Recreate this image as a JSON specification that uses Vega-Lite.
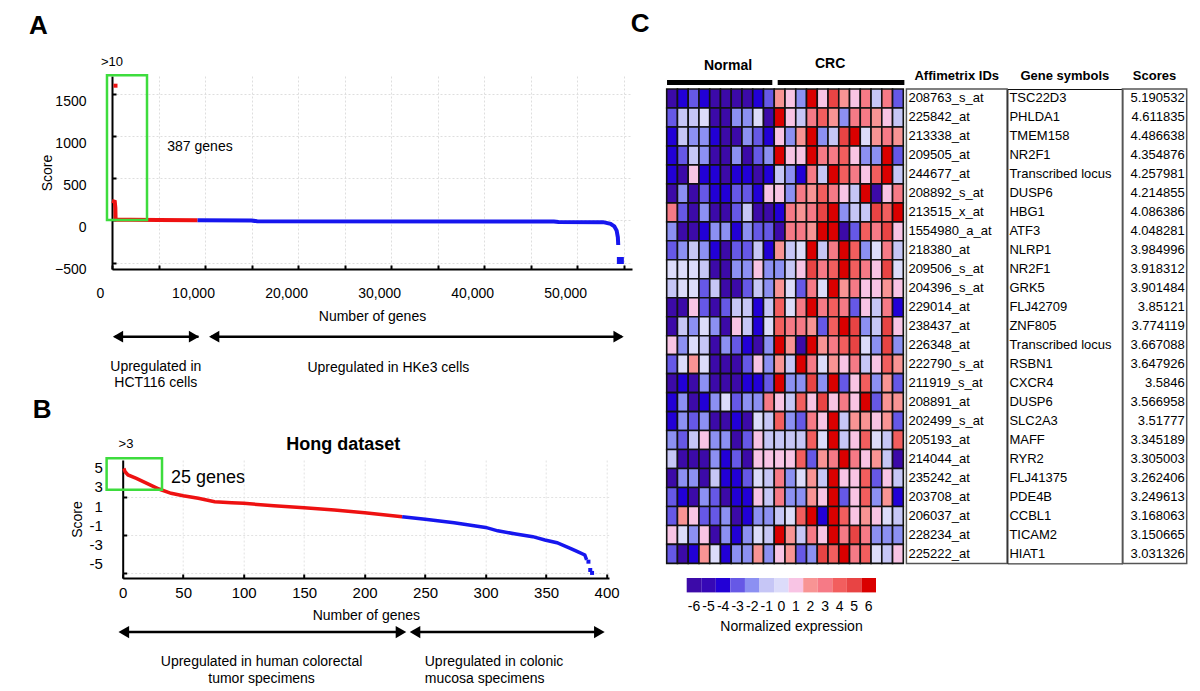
{
"$schema": "https://vega.github.io/schema/vega-lite/v6.json",
"padding": {"left": 29, "top": 11, "right": 5, "bottom": 5},
"background": "white",
"resolve": {"scale": {"color": "independent"}},
"config": {"font": "Liberation Sans", "view": {"stroke": null}, "axis": {"labelColor": "#000", "titleColor": "#000", "titleFontWeight": "normal", "labelFontSize": 14, "titleFontSize": 14, "domainColor": "#000", "tickColor": "#000", "labelFont": "Liberation Sans", "titleFont": "Liberation Sans", "labelOverlap": false}, "title": {"font": "Liberation Sans", "color": "#000"}},
"datasets": {
"aLine": [
{"n":0,"s":232,"g":"up"},{"n":300,"s":222,"g":"up"},{"n":360,"s":150,"g":"up"},{"n":387,"s":12,"g":"up"},{"n":600,"s":9,"g":"up"},{"n":2000,"s":7,"g":"up"},{"n":5000,"s":5,"g":"up"},{"n":9200,"s":2,"g":"up"},
{"n":9200,"s":2,"g":"down"},{"n":15000,"s":0,"g":"down"},{"n":15600,"s":-10,"g":"down"},{"n":47500,"s":-12,"g":"down"},{"n":48000,"s":-18,"g":"down"},{"n":52800,"s":-20,"g":"down"},{"n":53600,"s":-40,"g":"down"},{"n":54000,"s":-70,"g":"down"},{"n":54250,"s":-120,"g":"down"},{"n":54380,"s":-200,"g":"down"},{"n":54420,"s":-291,"g":"down"}
],
"bLine": [
{"n":1,"s":5.0,"g":"up"},{"n":2,"s":4.65,"g":"up"},{"n":4.4,"s":4.31,"g":"up"},{"n":11.3,"s":3.96,"g":"up"},{"n":20,"s":3.44,"g":"up"},{"n":30,"s":2.84,"g":"up"},{"n":40,"s":2.39,"g":"up"},{"n":50,"s":2.14,"g":"up"},{"n":62.5,"s":1.87,"g":"up"},{"n":76,"s":1.51,"g":"up"},{"n":90,"s":1.41,"g":"up"},{"n":100,"s":1.34,"g":"up"},{"n":125,"s":1.09,"g":"up"},{"n":150,"s":0.88,"g":"up"},{"n":175,"s":0.64,"g":"up"},{"n":200,"s":0.36,"g":"up"},{"n":231,"s":-0.06,"g":"up"},
{"n":231,"s":-0.06,"g":"down"},{"n":250,"s":-0.33,"g":"down"},{"n":274,"s":-0.69,"g":"down"},{"n":300,"s":-1.18,"g":"down"},{"n":310,"s":-1.54,"g":"down"},{"n":325,"s":-1.87,"g":"down"},{"n":339,"s":-2.15,"g":"down"},{"n":349,"s":-2.5,"g":"down"},{"n":359,"s":-2.78,"g":"down"},{"n":370,"s":-3.37,"g":"down"},{"n":376,"s":-3.72,"g":"down"},{"n":382,"s":-4.07,"g":"down"},{"n":383.5,"s":-4.59,"g":"down"}
],
"tbl": [
{"r":1,"id":"208763_s_at","sym":"TSC22D3","sc":"5.190532"},
{"r":2,"id":"225842_at","sym":"PHLDA1","sc":"4.611835"},
{"r":3,"id":"213338_at","sym":"TMEM158","sc":"4.486638"},
{"r":4,"id":"209505_at","sym":"NR2F1","sc":"4.354876"},
{"r":5,"id":"244677_at","sym":"Transcribed locus","sc":"4.257981"},
{"r":6,"id":"208892_s_at","sym":"DUSP6","sc":"4.214855"},
{"r":7,"id":"213515_x_at","sym":"HBG1","sc":"4.086386"},
{"r":8,"id":"1554980_a_at","sym":"ATF3","sc":"4.048281"},
{"r":9,"id":"218380_at","sym":"NLRP1","sc":"3.984996"},
{"r":10,"id":"209506_s_at","sym":"NR2F1","sc":"3.918312"},
{"r":11,"id":"204396_s_at","sym":"GRK5","sc":"3.901484"},
{"r":12,"id":"229014_at","sym":"FLJ42709","sc":"3.85121"},
{"r":13,"id":"238437_at","sym":"ZNF805","sc":"3.774119"},
{"r":14,"id":"226348_at","sym":"Transcribed locus","sc":"3.667088"},
{"r":15,"id":"222790_s_at","sym":"RSBN1","sc":"3.647926"},
{"r":16,"id":"211919_s_at","sym":"CXCR4","sc":"3.5846"},
{"r":17,"id":"208891_at","sym":"DUSP6","sc":"3.566958"},
{"r":18,"id":"202499_s_at","sym":"SLC2A3","sc":"3.51777"},
{"r":19,"id":"205193_at","sym":"MAFF","sc":"3.345189"},
{"r":20,"id":"214044_at","sym":"RYR2","sc":"3.305003"},
{"r":21,"id":"235242_at","sym":"FLJ41375","sc":"3.262406"},
{"r":22,"id":"203708_at","sym":"PDE4B","sc":"3.249613"},
{"r":23,"id":"206037_at","sym":"CCBL1","sc":"3.168063"},
{"r":24,"id":"228234_at","sym":"TICAM2","sc":"3.150665"},
{"r":25,"id":"225222_at","sym":"HIAT1","sc":"3.031326"}
],
"hm": [
{"r":1,"c":1,"v":-6},{"r":1,"c":2,"v":-4},{"r":1,"c":3,"v":-3},{"r":1,"c":4,"v":-4},{"r":1,"c":5,"v":-6},{"r":1,"c":6,"v":-6},{"r":1,"c":7,"v":-6},{"r":1,"c":8,"v":-6},{"r":1,"c":9,"v":-4},{"r":1,"c":10,"v":-3},{"r":1,"c":11,"v":2},{"r":1,"c":12,"v":1},{"r":1,"c":13,"v":-2},{"r":1,"c":14,"v":6},{"r":1,"c":15,"v":1},{"r":1,"c":16,"v":5},{"r":1,"c":17,"v":2},{"r":1,"c":18,"v":1},{"r":1,"c":19,"v":3},{"r":1,"c":20,"v":-1},{"r":1,"c":21,"v":3},{"r":1,"c":22,"v":-3},
{"r":2,"c":1,"v":-3},{"r":2,"c":2,"v":-1},{"r":2,"c":3,"v":-1},{"r":2,"c":4,"v":0},{"r":2,"c":5,"v":-6},{"r":2,"c":6,"v":-6},{"r":2,"c":7,"v":-2},{"r":2,"c":8,"v":-2},{"r":2,"c":9,"v":0},{"r":2,"c":10,"v":-6},{"r":2,"c":11,"v":6},{"r":2,"c":12,"v":1},{"r":2,"c":13,"v":-1},{"r":2,"c":14,"v":3},{"r":2,"c":15,"v":4},{"r":2,"c":16,"v":2},{"r":2,"c":17,"v":-2},{"r":2,"c":18,"v":3},{"r":2,"c":19,"v":3},{"r":2,"c":20,"v":2},{"r":2,"c":21,"v":1},{"r":2,"c":22,"v":-1},
{"r":3,"c":1,"v":-4},{"r":3,"c":2,"v":-1},{"r":3,"c":3,"v":-2},{"r":3,"c":4,"v":-2},{"r":3,"c":5,"v":-4},{"r":3,"c":6,"v":-6},{"r":3,"c":7,"v":-6},{"r":3,"c":8,"v":-2},{"r":3,"c":9,"v":-3},{"r":3,"c":10,"v":-4},{"r":3,"c":11,"v":1},{"r":3,"c":12,"v":-2},{"r":3,"c":13,"v":2},{"r":3,"c":14,"v":6},{"r":3,"c":15,"v":-2},{"r":3,"c":16,"v":-1},{"r":3,"c":17,"v":5},{"r":3,"c":18,"v":6},{"r":3,"c":19,"v":0},{"r":3,"c":20,"v":2},{"r":3,"c":21,"v":3},{"r":3,"c":22,"v":2},
{"r":4,"c":1,"v":-4},{"r":4,"c":2,"v":-3},{"r":4,"c":3,"v":-1},{"r":4,"c":4,"v":-2},{"r":4,"c":5,"v":-6},{"r":4,"c":6,"v":-6},{"r":4,"c":7,"v":-2},{"r":4,"c":8,"v":-6},{"r":4,"c":9,"v":-3},{"r":4,"c":10,"v":-2},{"r":4,"c":11,"v":6},{"r":4,"c":12,"v":1},{"r":4,"c":13,"v":1},{"r":4,"c":14,"v":6},{"r":4,"c":15,"v":3},{"r":4,"c":16,"v":3},{"r":4,"c":17,"v":4},{"r":4,"c":18,"v":1},{"r":4,"c":19,"v":-2},{"r":4,"c":20,"v":-2},{"r":4,"c":21,"v":6},{"r":4,"c":22,"v":-3},
{"r":5,"c":1,"v":-4},{"r":5,"c":2,"v":-6},{"r":5,"c":3,"v":1},{"r":5,"c":4,"v":-4},{"r":5,"c":5,"v":-4},{"r":5,"c":6,"v":-6},{"r":5,"c":7,"v":-4},{"r":5,"c":8,"v":-4},{"r":5,"c":9,"v":-6},{"r":5,"c":10,"v":-4},{"r":5,"c":11,"v":-1},{"r":5,"c":12,"v":-2},{"r":5,"c":13,"v":-4},{"r":5,"c":14,"v":3},{"r":5,"c":15,"v":-1},{"r":5,"c":16,"v":6},{"r":5,"c":17,"v":4},{"r":5,"c":18,"v":3},{"r":5,"c":19,"v":1},{"r":5,"c":20,"v":4},{"r":5,"c":21,"v":6},{"r":5,"c":22,"v":-1},
{"r":6,"c":1,"v":-6},{"r":6,"c":2,"v":-2},{"r":6,"c":3,"v":-6},{"r":6,"c":4,"v":-3},{"r":6,"c":5,"v":-4},{"r":6,"c":6,"v":-4},{"r":6,"c":7,"v":-3},{"r":6,"c":8,"v":-3},{"r":6,"c":9,"v":-4},{"r":6,"c":10,"v":1},{"r":6,"c":11,"v":1},{"r":6,"c":12,"v":-2},{"r":6,"c":13,"v":3},{"r":6,"c":14,"v":2},{"r":6,"c":15,"v":4},{"r":6,"c":16,"v":3},{"r":6,"c":17,"v":1},{"r":6,"c":18,"v":-1},{"r":6,"c":19,"v":6},{"r":6,"c":20,"v":-6},{"r":6,"c":21,"v":1},{"r":6,"c":22,"v":3},
{"r":7,"c":1,"v":3},{"r":7,"c":2,"v":-3},{"r":7,"c":3,"v":-6},{"r":7,"c":4,"v":-2},{"r":7,"c":5,"v":-6},{"r":7,"c":6,"v":-6},{"r":7,"c":7,"v":-3},{"r":7,"c":8,"v":-1},{"r":7,"c":9,"v":-6},{"r":7,"c":10,"v":-6},{"r":7,"c":11,"v":-4},{"r":7,"c":12,"v":3},{"r":7,"c":13,"v":2},{"r":7,"c":14,"v":3},{"r":7,"c":15,"v":5},{"r":7,"c":16,"v":6},{"r":7,"c":17,"v":-2},{"r":7,"c":18,"v":-1},{"r":7,"c":19,"v":-1},{"r":7,"c":20,"v":5},{"r":7,"c":21,"v":4},{"r":7,"c":22,"v":6},
{"r":8,"c":1,"v":-2},{"r":8,"c":2,"v":-6},{"r":8,"c":3,"v":-6},{"r":8,"c":4,"v":-4},{"r":8,"c":5,"v":-2},{"r":8,"c":6,"v":-2},{"r":8,"c":7,"v":-4},{"r":8,"c":8,"v":-2},{"r":8,"c":9,"v":-3},{"r":8,"c":10,"v":-3},{"r":8,"c":11,"v":-6},{"r":8,"c":12,"v":3},{"r":8,"c":13,"v":3},{"r":8,"c":14,"v":2},{"r":8,"c":15,"v":6},{"r":8,"c":16,"v":6},{"r":8,"c":17,"v":-6},{"r":8,"c":18,"v":-3},{"r":8,"c":19,"v":4},{"r":8,"c":20,"v":3},{"r":8,"c":21,"v":5},{"r":8,"c":22,"v":1},
{"r":9,"c":1,"v":-3},{"r":9,"c":2,"v":-2},{"r":9,"c":3,"v":-1},{"r":9,"c":4,"v":-2},{"r":9,"c":5,"v":-4},{"r":9,"c":6,"v":-6},{"r":9,"c":7,"v":-3},{"r":9,"c":8,"v":-3},{"r":9,"c":9,"v":-1},{"r":9,"c":10,"v":-4},{"r":9,"c":11,"v":2},{"r":9,"c":12,"v":-1},{"r":9,"c":13,"v":0},{"r":9,"c":14,"v":6},{"r":9,"c":15,"v":-1},{"r":9,"c":16,"v":3},{"r":9,"c":17,"v":6},{"r":9,"c":18,"v":4},{"r":9,"c":19,"v":-2},{"r":9,"c":20,"v":0},{"r":9,"c":21,"v":3},{"r":9,"c":22,"v":-1},
{"r":10,"c":1,"v":0},{"r":10,"c":2,"v":0},{"r":10,"c":3,"v":0},{"r":10,"c":4,"v":-1},{"r":10,"c":5,"v":-6},{"r":10,"c":6,"v":-6},{"r":10,"c":7,"v":-2},{"r":10,"c":8,"v":-2},{"r":10,"c":9,"v":1},{"r":10,"c":10,"v":-2},{"r":10,"c":11,"v":-2},{"r":10,"c":12,"v":-1},{"r":10,"c":13,"v":1},{"r":10,"c":14,"v":5},{"r":10,"c":15,"v":3},{"r":10,"c":16,"v":4},{"r":10,"c":17,"v":6},{"r":10,"c":18,"v":4},{"r":10,"c":19,"v":3},{"r":10,"c":20,"v":1},{"r":10,"c":21,"v":5},{"r":10,"c":22,"v":0},
{"r":11,"c":1,"v":-1},{"r":11,"c":2,"v":0},{"r":11,"c":3,"v":0},{"r":11,"c":4,"v":-3},{"r":11,"c":5,"v":-1},{"r":11,"c":6,"v":-6},{"r":11,"c":7,"v":-6},{"r":11,"c":8,"v":-3},{"r":11,"c":9,"v":-1},{"r":11,"c":10,"v":-2},{"r":11,"c":11,"v":2},{"r":11,"c":12,"v":0},{"r":11,"c":13,"v":-3},{"r":11,"c":14,"v":3},{"r":11,"c":15,"v":0},{"r":11,"c":16,"v":6},{"r":11,"c":17,"v":2},{"r":11,"c":18,"v":3},{"r":11,"c":19,"v":1},{"r":11,"c":20,"v":1},{"r":11,"c":21,"v":2},{"r":11,"c":22,"v":1},
{"r":12,"c":1,"v":-6},{"r":12,"c":2,"v":-6},{"r":12,"c":3,"v":1},{"r":12,"c":4,"v":-3},{"r":12,"c":5,"v":-6},{"r":12,"c":6,"v":-3},{"r":12,"c":7,"v":-1},{"r":12,"c":8,"v":-1},{"r":12,"c":9,"v":-4},{"r":12,"c":10,"v":-1},{"r":12,"c":11,"v":4},{"r":12,"c":12,"v":0},{"r":12,"c":13,"v":3},{"r":12,"c":14,"v":6},{"r":12,"c":15,"v":3},{"r":12,"c":16,"v":4},{"r":12,"c":17,"v":3},{"r":12,"c":18,"v":-3},{"r":12,"c":19,"v":1},{"r":12,"c":20,"v":-1},{"r":12,"c":21,"v":3},{"r":12,"c":22,"v":-4},
{"r":13,"c":1,"v":-6},{"r":13,"c":2,"v":-1},{"r":13,"c":3,"v":-2},{"r":13,"c":4,"v":0},{"r":13,"c":5,"v":-2},{"r":13,"c":6,"v":-6},{"r":13,"c":7,"v":1},{"r":13,"c":8,"v":-1},{"r":13,"c":9,"v":-4},{"r":13,"c":10,"v":0},{"r":13,"c":11,"v":4},{"r":13,"c":12,"v":3},{"r":13,"c":13,"v":3},{"r":13,"c":14,"v":2},{"r":13,"c":15,"v":-3},{"r":13,"c":16,"v":4},{"r":13,"c":17,"v":6},{"r":13,"c":18,"v":5},{"r":13,"c":19,"v":-2},{"r":13,"c":20,"v":-1},{"r":13,"c":21,"v":5},{"r":13,"c":22,"v":1},
{"r":14,"c":1,"v":1},{"r":14,"c":2,"v":-2},{"r":14,"c":3,"v":0},{"r":14,"c":4,"v":-1},{"r":14,"c":5,"v":-6},{"r":14,"c":6,"v":-2},{"r":14,"c":7,"v":-3},{"r":14,"c":8,"v":-4},{"r":14,"c":9,"v":-6},{"r":14,"c":10,"v":-2},{"r":14,"c":11,"v":6},{"r":14,"c":12,"v":2},{"r":14,"c":13,"v":-6},{"r":14,"c":14,"v":6},{"r":14,"c":15,"v":2},{"r":14,"c":16,"v":3},{"r":14,"c":17,"v":4},{"r":14,"c":18,"v":5},{"r":14,"c":19,"v":0},{"r":14,"c":20,"v":-2},{"r":14,"c":21,"v":5},{"r":14,"c":22,"v":-2},
{"r":15,"c":1,"v":-3},{"r":15,"c":2,"v":0},{"r":15,"c":3,"v":2},{"r":15,"c":4,"v":0},{"r":15,"c":5,"v":-6},{"r":15,"c":6,"v":-6},{"r":15,"c":7,"v":-6},{"r":15,"c":8,"v":-3},{"r":15,"c":9,"v":1},{"r":15,"c":10,"v":-2},{"r":15,"c":11,"v":2},{"r":15,"c":12,"v":-1},{"r":15,"c":13,"v":6},{"r":15,"c":14,"v":3},{"r":15,"c":15,"v":0},{"r":15,"c":16,"v":2},{"r":15,"c":17,"v":1},{"r":15,"c":18,"v":3},{"r":15,"c":19,"v":-1},{"r":15,"c":20,"v":1},{"r":15,"c":21,"v":4},{"r":15,"c":22,"v":2},
{"r":16,"c":1,"v":-6},{"r":16,"c":2,"v":-4},{"r":16,"c":3,"v":-6},{"r":16,"c":4,"v":-2},{"r":16,"c":5,"v":-6},{"r":16,"c":6,"v":-6},{"r":16,"c":7,"v":-6},{"r":16,"c":8,"v":-4},{"r":16,"c":9,"v":-4},{"r":16,"c":10,"v":-3},{"r":16,"c":11,"v":6},{"r":16,"c":12,"v":-2},{"r":16,"c":13,"v":-2},{"r":16,"c":14,"v":5},{"r":16,"c":15,"v":-2},{"r":16,"c":16,"v":6},{"r":16,"c":17,"v":-3},{"r":16,"c":18,"v":1},{"r":16,"c":19,"v":4},{"r":16,"c":20,"v":-2},{"r":16,"c":21,"v":2},{"r":16,"c":22,"v":-3},
{"r":17,"c":1,"v":-4},{"r":17,"c":2,"v":-2},{"r":17,"c":3,"v":-6},{"r":17,"c":4,"v":-4},{"r":17,"c":5,"v":-2},{"r":17,"c":6,"v":0},{"r":17,"c":7,"v":-3},{"r":17,"c":8,"v":-2},{"r":17,"c":9,"v":-2},{"r":17,"c":10,"v":3},{"r":17,"c":11,"v":1},{"r":17,"c":12,"v":-1},{"r":17,"c":13,"v":4},{"r":17,"c":14,"v":1},{"r":17,"c":15,"v":5},{"r":17,"c":16,"v":1},{"r":17,"c":17,"v":3},{"r":17,"c":18,"v":1},{"r":17,"c":19,"v":6},{"r":17,"c":20,"v":-3},{"r":17,"c":21,"v":2},{"r":17,"c":22,"v":2},
{"r":18,"c":1,"v":-4},{"r":18,"c":2,"v":-2},{"r":18,"c":3,"v":-3},{"r":18,"c":4,"v":-2},{"r":18,"c":5,"v":-6},{"r":18,"c":6,"v":-6},{"r":18,"c":7,"v":-4},{"r":18,"c":8,"v":-6},{"r":18,"c":9,"v":0},{"r":18,"c":10,"v":-1},{"r":18,"c":11,"v":4},{"r":18,"c":12,"v":-2},{"r":18,"c":13,"v":-3},{"r":18,"c":14,"v":3},{"r":18,"c":15,"v":1},{"r":18,"c":16,"v":6},{"r":18,"c":17,"v":-1},{"r":18,"c":18,"v":2},{"r":18,"c":19,"v":2},{"r":18,"c":20,"v":1},{"r":18,"c":21,"v":2},{"r":18,"c":22,"v":-3},
{"r":19,"c":1,"v":-2},{"r":19,"c":2,"v":-3},{"r":19,"c":3,"v":-1},{"r":19,"c":4,"v":1},{"r":19,"c":5,"v":-2},{"r":19,"c":6,"v":-2},{"r":19,"c":7,"v":-6},{"r":19,"c":8,"v":-3},{"r":19,"c":9,"v":1},{"r":19,"c":10,"v":-1},{"r":19,"c":11,"v":-1},{"r":19,"c":12,"v":-1},{"r":19,"c":13,"v":-1},{"r":19,"c":14,"v":4},{"r":19,"c":15,"v":0},{"r":19,"c":16,"v":6},{"r":19,"c":17,"v":-1},{"r":19,"c":18,"v":1},{"r":19,"c":19,"v":4},{"r":19,"c":20,"v":0},{"r":19,"c":21,"v":-1},{"r":19,"c":22,"v":4},
{"r":20,"c":1,"v":-1},{"r":20,"c":2,"v":-6},{"r":20,"c":3,"v":-6},{"r":20,"c":4,"v":-6},{"r":20,"c":5,"v":-2},{"r":20,"c":6,"v":-4},{"r":20,"c":7,"v":-3},{"r":20,"c":8,"v":-6},{"r":20,"c":9,"v":1},{"r":20,"c":10,"v":1},{"r":20,"c":11,"v":1},{"r":20,"c":12,"v":1},{"r":20,"c":13,"v":4},{"r":20,"c":14,"v":-3},{"r":20,"c":15,"v":2},{"r":20,"c":16,"v":3},{"r":20,"c":17,"v":6},{"r":20,"c":18,"v":3},{"r":20,"c":19,"v":1},{"r":20,"c":20,"v":2},{"r":20,"c":21,"v":-1},{"r":20,"c":22,"v":-6},
{"r":21,"c":1,"v":-6},{"r":21,"c":2,"v":-2},{"r":21,"c":3,"v":-2},{"r":21,"c":4,"v":-6},{"r":21,"c":5,"v":-1},{"r":21,"c":6,"v":-4},{"r":21,"c":7,"v":-4},{"r":21,"c":8,"v":-3},{"r":21,"c":9,"v":0},{"r":21,"c":10,"v":-1},{"r":21,"c":11,"v":3},{"r":21,"c":12,"v":-2},{"r":21,"c":13,"v":0},{"r":21,"c":14,"v":2},{"r":21,"c":15,"v":-1},{"r":21,"c":16,"v":6},{"r":21,"c":17,"v":1},{"r":21,"c":18,"v":1},{"r":21,"c":19,"v":4},{"r":21,"c":20,"v":-3},{"r":21,"c":21,"v":1},{"r":21,"c":22,"v":-1},
{"r":22,"c":1,"v":-3},{"r":22,"c":2,"v":-4},{"r":22,"c":3,"v":-6},{"r":22,"c":4,"v":-2},{"r":22,"c":5,"v":-3},{"r":22,"c":6,"v":-6},{"r":22,"c":7,"v":-4},{"r":22,"c":8,"v":-4},{"r":22,"c":9,"v":1},{"r":22,"c":10,"v":-1},{"r":22,"c":11,"v":3},{"r":22,"c":12,"v":-2},{"r":22,"c":13,"v":-2},{"r":22,"c":14,"v":2},{"r":22,"c":15,"v":1},{"r":22,"c":16,"v":6},{"r":22,"c":17,"v":-3},{"r":22,"c":18,"v":1},{"r":22,"c":19,"v":4},{"r":22,"c":20,"v":-2},{"r":22,"c":21,"v":2},{"r":22,"c":22,"v":-4},
{"r":23,"c":1,"v":-3},{"r":23,"c":2,"v":2},{"r":23,"c":3,"v":1},{"r":23,"c":4,"v":-3},{"r":23,"c":5,"v":-3},{"r":23,"c":6,"v":-2},{"r":23,"c":7,"v":-6},{"r":23,"c":8,"v":-4},{"r":23,"c":9,"v":-2},{"r":23,"c":10,"v":-2},{"r":23,"c":11,"v":-1},{"r":23,"c":12,"v":0},{"r":23,"c":13,"v":4},{"r":23,"c":14,"v":6},{"r":23,"c":15,"v":-4},{"r":23,"c":16,"v":6},{"r":23,"c":17,"v":4},{"r":23,"c":18,"v":1},{"r":23,"c":19,"v":2},{"r":23,"c":20,"v":1},{"r":23,"c":21,"v":0},{"r":23,"c":22,"v":-1},
{"r":24,"c":1,"v":1},{"r":24,"c":2,"v":0},{"r":24,"c":3,"v":-2},{"r":24,"c":4,"v":1},{"r":24,"c":5,"v":-6},{"r":24,"c":6,"v":-2},{"r":24,"c":7,"v":-4},{"r":24,"c":8,"v":-2},{"r":24,"c":9,"v":0},{"r":24,"c":10,"v":-1},{"r":24,"c":11,"v":6},{"r":24,"c":12,"v":2},{"r":24,"c":13,"v":-1},{"r":24,"c":14,"v":3},{"r":24,"c":15,"v":1},{"r":24,"c":16,"v":6},{"r":24,"c":17,"v":3},{"r":24,"c":18,"v":5},{"r":24,"c":19,"v":3},{"r":24,"c":20,"v":-2},{"r":24,"c":21,"v":-2},{"r":24,"c":22,"v":-2},
{"r":25,"c":1,"v":-3},{"r":25,"c":2,"v":-6},{"r":25,"c":3,"v":-4},{"r":25,"c":4,"v":2},{"r":25,"c":5,"v":0},{"r":25,"c":6,"v":-4},{"r":25,"c":7,"v":-2},{"r":25,"c":8,"v":-2},{"r":25,"c":9,"v":2},{"r":25,"c":10,"v":-2},{"r":25,"c":11,"v":1},{"r":25,"c":12,"v":2},{"r":25,"c":13,"v":-3},{"r":25,"c":14,"v":-2},{"r":25,"c":15,"v":5},{"r":25,"c":16,"v":4},{"r":25,"c":17,"v":6},{"r":25,"c":18,"v":3},{"r":25,"c":19,"v":4},{"r":25,"c":20,"v":0},{"r":25,"c":21,"v":-1},{"r":25,"c":22,"v":1}
]
},
"hconcat": [
{
"vconcat": [
{
"width": 520, "height": 193,
"layer": [
{"data": {"name": "aLine"}, "mark": {"type": "line", "strokeWidth": 4, "strokeCap": "butt"},
 "encoding": {
  "x": {"field": "n", "type": "quantitative", "scale": {"domain": [0, 55900], "nice": false, "zero": false},
   "axis": {"title": "Number of genes", "values": [0,5000,10000,15000,20000,25000,30000,35000,40000,45000,50000,55000], "labelExpr": "datum.value % 10000 === 0 ? format(datum.value, ',') : ''", "labelOffset": -12, "labelPadding": 21, "tickSize": -4, "tickWidth": 2, "domainWidth": 2, "grid": true, "gridColor": "#dedede", "gridDash": [2, 2], "labelFlush": false, "labelOverlap": false, "titlePadding": 9}},
  "y": {"field": "s", "type": "quantitative", "scale": {"domain": [-576, 1714], "nice": false, "zero": false},
   "axis": {"title": "Score", "values": [-500,-250,0,250,500,750,1000,1250,1500], "labelExpr": "format(datum.value, 'd')", "labelOffset": 7, "labelPadding": 30, "tickSize": -4, "tickWidth": 2, "domainWidth": 2, "grid": true, "gridColor": "#dedede", "gridDash": [2, 2], "labelFlush": false, "labelOverlap": false, "titlePadding": 0}},
  "color": {"field": "g", "type": "nominal", "scale": {"domain": ["up", "down"], "range": ["#ee1111", "#1616ee"]}, "legend": null}}},
{"data": {"values": [{"n": 376, "s": 1599}]}, "mark": {"type": "square", "filled": true, "opacity": 1, "size": 16, "color": "#ee1111"},
 "encoding": {"x": {"field": "n", "type": "quantitative"}, "y": {"field": "s", "type": "quantitative"}}},
{"data": {"values": [{"n": 54650, "s": -475}]}, "mark": {"type": "square", "filled": true, "opacity": 1, "size": 49, "color": "#1616ee"},
 "encoding": {"x": {"field": "n", "type": "quantitative"}, "y": {"field": "s", "type": "quantitative"}}},
{"data": {"values": [{"n": -538, "n2": 3763, "s": 1722, "s2": 5}]}, "mark": {"type": "rect", "fillOpacity": 0, "stroke": "#3ddc3d", "strokeWidth": 2.5},
 "encoding": {"x": {"field": "n", "type": "quantitative"}, "x2": {"field": "n2"}, "y": {"field": "s", "type": "quantitative"}, "y2": {"field": "s2"}}},
{"data": {"values": [{"n": 0, "s": 1876, "t": ">10"}]}, "mark": {"type": "text", "fontSize": 13, "align": "center", "baseline": "middle"},
 "encoding": {"x": {"field": "n", "type": "quantitative"}, "y": {"field": "s", "type": "quantitative"}, "text": {"field": "t"}}},
{"data": {"values": [{"n": 9460, "s": 875, "t": "387 genes"}, {"n": 4709, "s": -1735, "t": "Upregulated in"}, {"n": 4709, "s": -1932, "t": "HCT116 cells"}, {"n": 29714, "s": -1754, "t": "Upregulated in HKe3 cells"}]}, "mark": {"type": "text", "fontSize": 14, "align": "center", "baseline": "middle"},
 "encoding": {"x": {"field": "n", "type": "quantitative"}, "y": {"field": "s", "type": "quantitative"}, "text": {"field": "t"}}},
{"data": {"values": [{"n": -7912, "s": 2310, "t": "A"}]}, "mark": {"type": "text", "fontSize": 26, "fontWeight": "bold", "align": "center", "baseline": "middle"},
 "encoding": {"x": {"field": "n", "type": "quantitative"}, "y": {"field": "s", "type": "quantitative"}, "text": {"field": "t"}}},
{"data": {"values": [{"n": 300, "n2": 9300, "s": -1379}, {"n": 10640, "n2": 54800, "s": -1379}]}, "mark": {"type": "rule", "strokeWidth": 2.5, "color": "#000"},
 "encoding": {"x": {"field": "n", "type": "quantitative"}, "x2": {"field": "n2"}, "y": {"field": "s", "type": "quantitative"}}},
{"data": {"values": [{"n": 0, "s": -1379}, {"n": 10340, "s": -1379}]}, "mark": {"type": "point", "shape": "triangle-left", "filled": true, "opacity": 1, "size": 140, "color": "#000", "xOffset": 6},
 "encoding": {"x": {"field": "n", "type": "quantitative"}, "y": {"field": "s", "type": "quantitative"}}},
{"data": {"values": [{"n": 9460, "s": -1379}, {"n": 55100, "s": -1379}]}, "mark": {"type": "point", "shape": "triangle-right", "filled": true, "opacity": 1, "size": 140, "color": "#000", "xOffset": -6},
 "encoding": {"x": {"field": "n", "type": "quantitative"}, "y": {"field": "s", "type": "quantitative"}}}
]
},
{
"hconcat": [
{"width": 1, "height": 118, "data": {"values": [{"k": 0}]}, "mark": {"type": "text", "text": ""}, "encoding": {}},
{
"width": 486.3, "height": 118,
"layer": [
{"data": {"name": "bLine"}, "mark": {"type": "line", "strokeWidth": 3.5, "strokeCap": "butt"},
 "encoding": {
  "x": {"field": "n", "type": "quantitative", "scale": {"domain": [0, 402], "nice": false, "zero": false},
   "axis": {"title": "Number of genes", "values": [0,25,50,75,100,125,150,175,200,225,250,275,300,325,350,375,400], "labelExpr": "datum.value % 50 === 0 ? format(datum.value, 'd') : ''", "labelPadding": 11, "labelFontSize": 15, "tickSize": -4, "tickWidth": 2, "domainWidth": 2, "grid": true, "gridColor": "#e2e2e2", "gridDash": [2, 2], "labelFlush": false, "labelOverlap": false, "titlePadding": 8}},
  "y": {"field": "s", "type": "quantitative", "scale": {"domain": [-6.48, 5.88], "nice": false, "zero": false},
   "axis": {"title": "Score", "values": [-6,-5,-4,-3,-2,-1,0,1,2,3,4,5], "labels": false, "tickSize": -4, "tickWidth": 2, "domainWidth": 2, "grid": true, "gridColor": "#e2e2e2", "gridDash": [2, 2], "titlePadding": 37}},
  "color": {"field": "g", "type": "nominal", "scale": {"domain": ["up", "down"], "range": ["#ee1111", "#1616ee"]}, "legend": null}}},
{"data": {"values": [{"n": -16.5, "s": 5, "t": "5"}, {"n": -16.5, "s": 3, "t": "3"}, {"n": -16.5, "s": 1, "t": "1"}, {"n": -16.5, "s": -1, "t": "-1"}, {"n": -16.5, "s": -3, "t": "-3"}, {"n": -16.5, "s": -5, "t": "-5"}]}, "mark": {"type": "text", "fontSize": 15, "align": "right", "baseline": "middle"},
 "encoding": {"x": {"field": "n", "type": "quantitative"}, "y": {"field": "s", "type": "quantitative"}, "text": {"field": "t"}}},
{"data": {"values": [{"n": 385, "s": -4.77}, {"n": 386.5, "s": -5.64}, {"n": 388, "s": -5.95}]}, "mark": {"type": "square", "filled": true, "opacity": 1, "size": 16, "color": "#1616ee"},
 "encoding": {"x": {"field": "n", "type": "quantitative"}, "y": {"field": "s", "type": "quantitative"}}},
{"data": {"values": [{"n": -13.3, "n2": 32.5, "s": 6.06, "s2": 2.77}]}, "mark": {"type": "rect", "fillOpacity": 0, "stroke": "#3ddc3d", "strokeWidth": 2.5},
 "encoding": {"x": {"field": "n", "type": "quantitative"}, "x2": {"field": "n2"}, "y": {"field": "s", "type": "quantitative"}, "y2": {"field": "s2"}}},
{"data": {"values": [{"n": 2.7, "s": 7.55, "t": ">3"}]}, "mark": {"type": "text", "fontSize": 13, "align": "center", "baseline": "middle"},
 "encoding": {"x": {"field": "n", "type": "quantitative"}, "y": {"field": "s", "type": "quantitative"}, "text": {"field": "t"}}},
{"data": {"values": [{"n": 70.5, "s": 3.96, "t": "25 genes"}]}, "mark": {"type": "text", "fontSize": 18, "align": "center", "baseline": "middle"},
 "encoding": {"x": {"field": "n", "type": "quantitative"}, "y": {"field": "s", "type": "quantitative"}, "text": {"field": "t"}}},
{"data": {"values": [{"n": 182.3, "s": 7.45, "t": "Hong  dataset"}]}, "mark": {"type": "text", "fontSize": 18, "fontWeight": "bold", "align": "center", "baseline": "middle"},
 "encoding": {"x": {"field": "n", "type": "quantitative"}, "y": {"field": "s", "type": "quantitative"}, "text": {"field": "t"}}},
{"data": {"values": [{"n": -66.5, "s": 11.12, "t": "B"}]}, "mark": {"type": "text", "fontSize": 26, "fontWeight": "bold", "align": "center", "baseline": "middle"},
 "encoding": {"x": {"field": "n", "type": "quantitative"}, "y": {"field": "s", "type": "quantitative"}, "text": {"field": "t"}}},
{"data": {"values": [{"n": 114.8, "s": -15.31, "t": "Upregulated in human colorectal"}, {"n": 114.8, "s": -17.09, "t": "tumor specimens"}]}, "mark": {"type": "text", "fontSize": 14, "align": "center", "baseline": "middle"},
 "encoding": {"x": {"field": "n", "type": "quantitative"}, "y": {"field": "s", "type": "quantitative"}, "text": {"field": "t"}}},
{"data": {"values": [{"n": 249.7, "s": -15.31, "t": "Upregulated in colonic"}, {"n": 249.7, "s": -17.09, "t": "mucosa specimens"}]}, "mark": {"type": "text", "fontSize": 14, "align": "left", "baseline": "middle"},
 "encoding": {"x": {"field": "n", "type": "quantitative"}, "y": {"field": "s", "type": "quantitative"}, "text": {"field": "t"}}},
{"data": {"values": [{"n": 1, "n2": 230, "s": -12.14}, {"n": 241.7, "n2": 394, "s": -12.14}]}, "mark": {"type": "rule", "strokeWidth": 2.5, "color": "#000"},
 "encoding": {"x": {"field": "n", "type": "quantitative"}, "x2": {"field": "n2"}, "y": {"field": "s", "type": "quantitative"}}},
{"data": {"values": [{"n": -4.05, "s": -12.14}, {"n": 236.7, "s": -12.14}]}, "mark": {"type": "point", "shape": "triangle-left", "filled": true, "opacity": 1, "size": 150, "color": "#000", "xOffset": 6},
 "encoding": {"x": {"field": "n", "type": "quantitative"}, "y": {"field": "s", "type": "quantitative"}}},
{"data": {"values": [{"n": 235, "s": -12.14}, {"n": 399, "s": -12.14}]}, "mark": {"type": "point", "shape": "triangle-right", "filled": true, "opacity": 1, "size": 150, "color": "#000", "xOffset": -6},
 "encoding": {"x": {"field": "n", "type": "quantitative"}, "y": {"field": "s", "type": "quantitative"}}}
]
}
],
"spacing": 9.7, "bounds": "flush"
}
],
"spacing": 191, "bounds": "flush"
},
{
"vconcat": [
{
"width": 236.6, "height": 12.3,
"layer": [
{"data": {"values": [{"x": 0.03, "x2": 9.82, "y": -0.306}, {"x": 10.32, "x2": 22.1, "y": -0.306}]}, "mark": {"type": "rule", "strokeWidth": 5, "color": "#000"},
 "encoding": {"x": {"field": "x", "type": "quantitative", "scale": {"domain": [0, 22], "nice": false, "zero": false}, "axis": null}, "x2": {"field": "x2"}, "y": {"field": "y", "type": "quantitative", "scale": {"domain": [-0.648, 0], "nice": false, "zero": false, "reverse": true}, "axis": null}}},
{"data": {"values": [{"x": 5.7, "y": -1.175, "t": "Normal"}, {"x": 15.2, "y": -1.28, "t": "CRC"}]}, "mark": {"type": "text", "fontSize": 14, "fontWeight": "bold", "align": "center", "baseline": "middle"},
 "encoding": {"x": {"field": "x", "type": "quantitative"}, "y": {"field": "y", "type": "quantitative"}, "text": {"field": "t"}}},
{"data": {"values": [{"x": -2.48, "y": -3.38, "t": "C"}]}, "mark": {"type": "text", "fontSize": 26, "fontWeight": "bold", "align": "center", "baseline": "middle"},
 "encoding": {"x": {"field": "x", "type": "quantitative"}, "y": {"field": "y", "type": "quantitative"}, "text": {"field": "t"}}}
]
},
{
"vconcat": [
{
"hconcat": [
{
"width": 236.6, "height": 474.4,
"data": {"name": "hm"},
"mark": {"type": "rect", "stroke": "#111", "strokeWidth": 1.6},
"encoding": {
 "x": {"field": "c", "type": "ordinal", "scale": {"paddingInner": 0, "paddingOuter": 0}, "axis": null},
 "y": {"field": "r", "type": "ordinal", "scale": {"paddingInner": 0, "paddingOuter": 0}, "axis": null},
 "color": {"field": "v", "type": "ordinal", "scale": {"domain": [-6,-5,-4,-3,-2,-1,0,1,2,3,4,5,6], "range": ["#3c0aa8","#3608b6","#2200d6","#6658e6","#8c90f2","#c6c6f6","#dcdcfa","#f8c4e4","#f89494","#f67a86","#f25e5e","#e84444","#da0000"]}, "legend": null}}
},
{
"hconcat": [
{
"width": 100.7, "height": 474.4, "view": {"stroke": "#555", "strokeWidth": 1.5},
"title": {"text": "Affimetrix IDs", "fontSize": 13, "fontWeight": "bold", "offset": -7, "baseline": "bottom", "anchor": "middle"},
"data": {"name": "tbl"},
"mark": {"type": "text", "align": "left", "baseline": "middle", "fontSize": 13, "dx": 2},
"encoding": {"y": {"field": "r", "type": "ordinal", "axis": null}, "x": {"datum": 0, "type": "quantitative", "scale": {"domain": [0, 1]}, "axis": null}, "text": {"field": "id", "type": "nominal"}}
},
{
"width": 115, "height": 474.4, "view": {"stroke": "#111", "strokeWidth": 1},
"title": {"text": "Gene symbols", "fontSize": 13, "fontWeight": "bold", "offset": -7, "baseline": "bottom", "anchor": "middle"},
"data": {"name": "tbl"},
"mark": {"type": "text", "align": "left", "baseline": "middle", "fontSize": 13, "dx": 2},
"encoding": {"y": {"field": "r", "type": "ordinal", "axis": null}, "x": {"datum": 0, "type": "quantitative", "scale": {"domain": [0, 1]}, "axis": null}, "text": {"field": "sym", "type": "nominal"}}
},
{
"width": 64.3, "height": 474.4, "view": {"stroke": "#555", "strokeWidth": 1.5},
"title": {"text": "Scores", "fontSize": 13, "fontWeight": "bold", "offset": -7, "baseline": "bottom", "anchor": "middle"},
"data": {"name": "tbl"},
"mark": {"type": "text", "align": "right", "baseline": "middle", "fontSize": 13, "dx": -2},
"encoding": {"y": {"field": "r", "type": "ordinal", "axis": null}, "x": {"datum": 1, "type": "quantitative", "scale": {"domain": [0, 1]}, "axis": null}, "text": {"field": "sc", "type": "nominal"}}
}
],
"spacing": 0, "bounds": "flush"
}
],
"spacing": 2.7, "bounds": "flush"
},
{
"width": 236.6, "height": 14.4,
"data": {"values": [{"v": -6}, {"v": -5}, {"v": -4}, {"v": -3}, {"v": -2}, {"v": -1}, {"v": 0}, {"v": 1}, {"v": 2}, {"v": 3}, {"v": 4}, {"v": 5}, {"v": 6}]},
"mark": {"type": "rect"},
"encoding": {
 "x": {"field": "v", "type": "ordinal", "scale": {"range": [20, 209.3], "paddingInner": 0, "paddingOuter": 0},
  "axis": {"title": "Normalized expression", "titleX": 124.3, "domain": false, "ticks": false, "labelPadding": 7, "labelAngle": 0, "titlePadding": 6}},
 "color": {"field": "v", "type": "ordinal", "scale": {"domain": [-6,-5,-4,-3,-2,-1,0,1,2,3,4,5,6], "range": ["#3c0aa8","#3608b6","#2200d6","#6658e6","#8c90f2","#c6c6f6","#dcdcfa","#f8c4e4","#f89494","#f67a86","#f25e5e","#e84444","#da0000"]}, "legend": null}}
}
],
"spacing": 489, "bounds": "flush"
}
],
"spacing": 0, "bounds": "flush"
}
],
"spacing": 554.7, "bounds": "flush"
}
